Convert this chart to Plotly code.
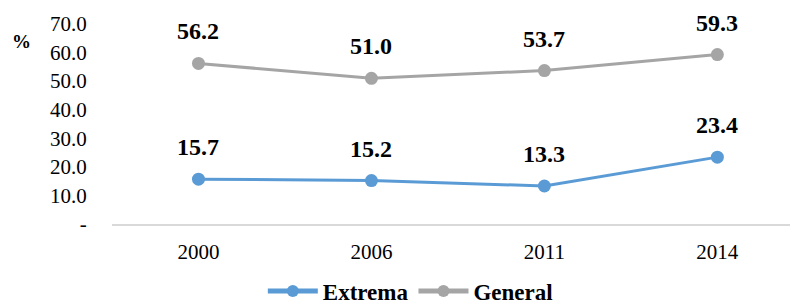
import plotly.graph_objects as go

years = ["2000", "2006", "2011", "2014"]
extrema = [15.7, 15.2, 13.3, 23.4]
general = [56.2, 51.0, 53.7, 59.3]
y_ticks = [0, 10, 20, 30, 40, 50, 60, 70]
y_tick_labels = ["-", "10.0", "20.0", "30.0", "40.0", "50.0", "60.0", "70.0"]

BLUE = "#5B9BD5"
GRAY = "#A5A5A5"
FONT = "Liberation Serif"

fig = go.Figure()
fig.add_trace(go.Scatter(x=years, y=extrema, mode="lines+markers", name="<b>Extrema</b>",
                         line=dict(color=BLUE, width=3), marker=dict(color=BLUE, size=13)))
fig.add_trace(go.Scatter(x=years, y=general, mode="lines+markers", name="<b>General</b>",
                         line=dict(color=GRAY, width=3), marker=dict(color=GRAY, size=13)))

annotations = []
for series in (extrema, general):
    for i, v in enumerate(series):
        annotations.append(dict(x=i, y=v, xref="x", yref="y", text=f"<b>{v:.1f}</b>",
                                showarrow=False, yshift=32,
                                font=dict(family=FONT, size=24, color="black")))
annotations.append(dict(xref="paper", yref="paper", x=-0.15, y=0.91, text="<b>%</b>",
                        showarrow=False, xanchor="left", yanchor="middle",
                        font=dict(family=FONT, size=19, color="black")))

fig.update_layout(
    width=790, height=308,
    margin=dict(l=112, r=0, t=24, b=84, autoexpand=False),
    paper_bgcolor="white", plot_bgcolor="white",
    font=dict(family=FONT, size=21, color="black"),
    showlegend=True,
    legend=dict(orientation="h", x=0.44, y=-0.335, xanchor="center", yanchor="middle",
                font=dict(family=FONT, size=23, color="black"), itemwidth=50,
                itemsizing="constant"),
    annotations=annotations,
    xaxis=dict(type="category", range=[-0.5, 3.42], showgrid=False, showline=True,
               linecolor="#D9D9D9", linewidth=2, ticks="outside", ticklen=8,
               tickcolor="rgba(0,0,0,0)", tickfont=dict(family=FONT, size=21),
               zeroline=False, automargin=False),
    yaxis=dict(range=[0, 70], tickvals=y_ticks, ticktext=y_tick_labels, showgrid=False,
               showline=False, zeroline=False, ticks="outside", ticklen=20,
               tickcolor="rgba(0,0,0,0)", tickfont=dict(family=FONT, size=21), automargin=False),
)
fig.write_html("out.html", config={"displayModeBar": False},
               post_script="document.body.style.margin='0';")
